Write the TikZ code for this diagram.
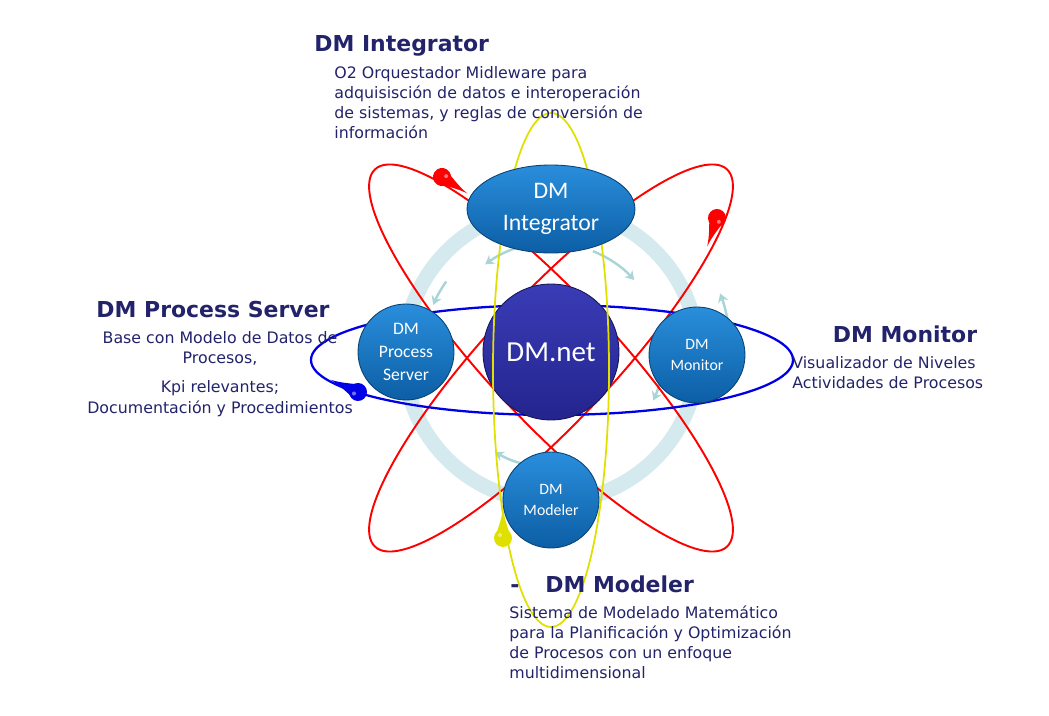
\documentclass[tikz,border=0pt]{standalone}
\usepackage{fontspec}
\setmainfont{DejaVu Sans}
\newfontfamily\nodefont{Carlito}
\usetikzlibrary{shapes.geometric,arrows.meta}

\definecolor{nodeblue}{HTML}{0E6FC2}
\definecolor{nodetop}{HTML}{2A8EDC}
\definecolor{netblue}{HTML}{24248E}
\definecolor{nettop}{HTML}{3A3CB6}
\definecolor{ringblue}{HTML}{D5EAEE}
\definecolor{inktext}{HTML}{23236B}
\definecolor{orbred}{HTML}{FF0000}
\definecolor{orbblue}{HTML}{0000E6}
\definecolor{orbyellow}{HTML}{E0E000}

\tikzset{
  module/.style={circle, draw=nodeblue!60!black, line width=0.5pt,
    top color=nodetop, bottom color=nodeblue!85!black, text=white,
    align=center, inner sep=0pt, minimum size=1.92cm},
  hub/.style={circle, draw=netblue!60!black, line width=0.5pt,
    top color=nettop, bottom color=netblue, text=white,
    font=\nodefont\fontsize{16.5}{18}\selectfont, inner sep=0pt, minimum size=2.72cm},
  integ/.style={ellipse, draw=nodeblue!60!black, line width=0.5pt,
    top color=nodetop, bottom color=nodeblue!85!black, text=white,
    font=\nodefont\fontsize{13.5}{18}\selectfont, align=center, inner sep=0pt,
    minimum width=3.36cm, minimum height=1.76cm},
  title/.style={font=\bfseries\fontsize{12.5}{14}\selectfont, text=inktext, inner sep=0pt},
  desc/.style={font=\fontsize{9}{11.4}\selectfont, text=inktext, align=left, inner sep=0pt},
  ringband/.style={ringblue, line width=0.3cm},
  ringarrow/.style={ringblue!80!teal, line width=1.4pt, -{Stealth[length=5pt,width=6pt]}},
  redorbit/.style={orbred, line width=1.1pt},
  blueorbit/.style={orbblue, line width=1.3pt},
  yelloworbit/.style={orbyellow, line width=1pt},
  electron/.pic={
    \fill (0,0) circle (9);
    \fill (0,-8) .. controls (10,-5) and (18,-1.5) .. (30,0)
      .. controls (18,1.5) and (10,5) .. (0,8) -- cycle;
    \fill[white, opacity=0.45] (3,-3) circle (2);
  }
}

\begin{document}
\begin{tikzpicture}[x=0.02cm, y=-0.02cm]
  \useasboundingbox (0,0) rectangle (1049,716);

  % ring and its arrows
  \draw[ringband] (551,355) circle (147);
  \draw[ringarrow] (551,355) ++(-75:112) arc (-75:-126:112);
  \draw[ringarrow] (551,355) ++(-68:112) arc (-68:-42:112);
  \draw[ringarrow] (551,355) ++(2:112) arc (2:24:112);
  \draw[ringarrow] (551,355) ++(78:112) arc (78:120:112);
  \draw[ringarrow] (551,355) ++(-5:180) arc (-5:-20:180);
  \draw[ringarrow] (551,355) ++(-145:128) arc (-145:-157:128);

  % orbits
  \draw[redorbit, rotate around={-47:(551,358)}] (551,358) ellipse [x radius=258, y radius=63];
  \draw[redorbit, rotate around={47:(551,358)}] (551,358) ellipse [x radius=258, y radius=63];
  \draw[blueorbit] (552,360) ellipse [x radius=241, y radius=55];

  \node[hub] (net) at (551,352) {DM.net};

  \draw[yelloworbit] (551,370) ellipse [x radius=58, y radius=257];

  % electrons
  \pic[orbred, rotate=-33] at (442,177) {electron};
  \pic[orbred, rotate=-109] at (717,218) {electron};
  \pic[orbblue, rotate=156] at (358,392) {electron};
  \pic[orbyellow, rotate=90] at (503,538) {electron};

  % modules
  \node[integ] (integ) at (551,209) {DM\\Integrator};
  \node[module, font=\nodefont\fontsize{10}{13}\selectfont] (proc) at (406,352) {DM\\Process\\Server};
  \node[module, font=\nodefont\fontsize{9}{11.5}\selectfont] (moni) at (697,355) {DM\\Monitor};
  \node[module, font=\nodefont\fontsize{9}{12}\selectfont] (mode) at (551,500) {DM\\Modeler};

  % texts
  \node[title, anchor=base west] (tinteg) at (314,52) {DM Integrator};
  \node[desc, anchor=north west] (dinteg) at (334,66) {O2 Orquestador Midleware para\\adquisisción de datos e interoperación\\de sistemas, y reglas de conversión de\\información};

  \node[title, anchor=base] (tproc) at (213,318) {DM Process Server};
  \node[desc, align=center, anchor=north] (dproc) at (220,331) {Base con Modelo de Datos de\\Procesos,\\[5pt]Kpi relevantes;\\[1pt]Documentación y Procedimientos};

  \node[title, anchor=base] (tmoni) at (905,343) {DM Monitor};
  \node[desc, anchor=north west] (dmoni) at (792,356) {Visualizador de Niveles\\Actividades de Procesos};

  \node[title, anchor=base west] (bullet) at (510,592) {-};
  \node[title, anchor=base west] (tmode) at (545,592) {DM Modeler};
  \node[desc, anchor=north west] (dmode) at (509,605) {Sistema de Modelado Matemático\\para la Planificación y Optimización\\de Procesos con un enfoque\\multidimensional};
\end{tikzpicture}
\end{document}
